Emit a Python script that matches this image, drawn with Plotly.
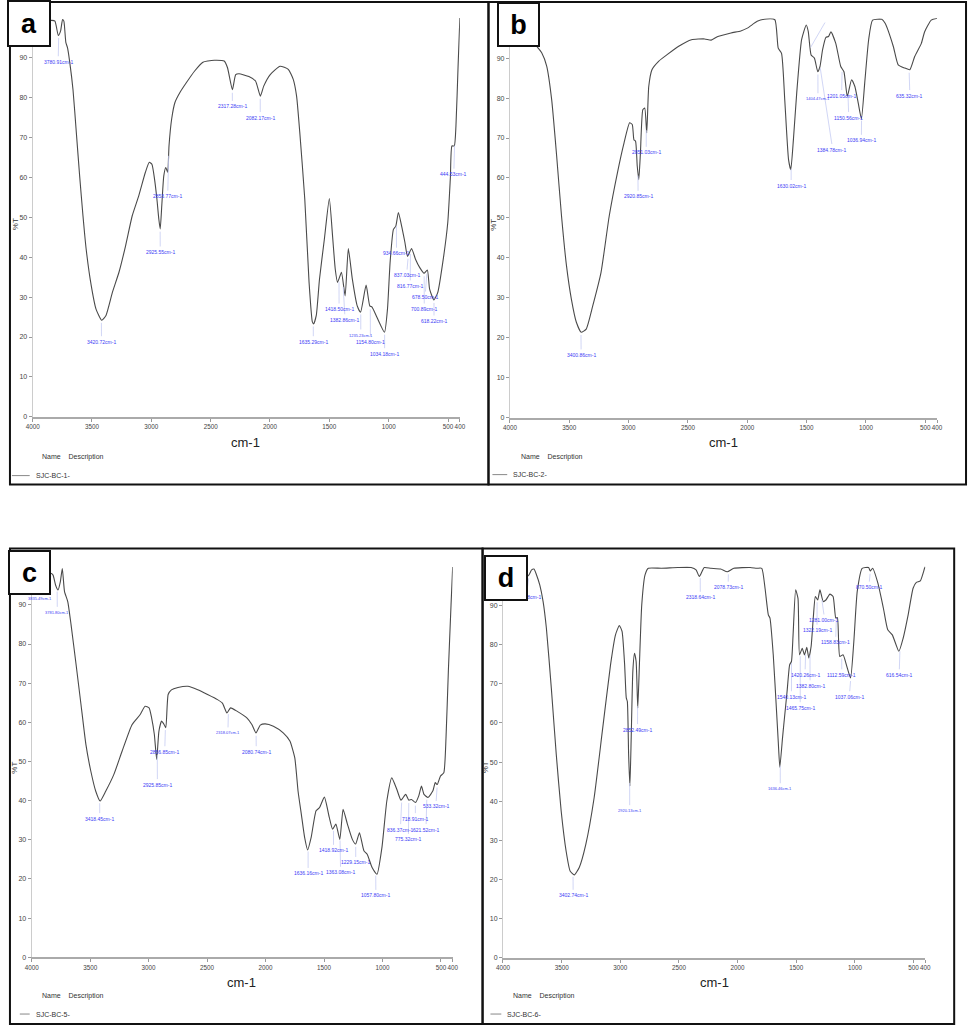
import numpy as np
import plotly.graph_objects as go

W, H = 974, 1029

# ---------------- DATA ----------------
x_ticks = [4000, 3500, 3000, 2500, 2000, 1500, 1000, 500, 400]
y_ticks = [0, 10, 20, 30, 40, 50, 60, 70, 80, 90]
panel_letters = ["a", "b", "c", "d"]
sample_names = ["SJC-BC-1-", "SJC-BC-2-", "SJC-BC-5-", "SJC-BC-6-"]

wn_a = [4000, 3900, 3839, 3812, 3784, 3765, 3748, 3737, 3720, 3706,
        3687, 3660, 3632, 3604, 3576, 3549, 3507, 3466, 3418, 3382,
        3327, 3272, 3216, 3161, 3106, 3050, 3017, 2995, 2973, 2953,
        2937, 2925, 2912, 2895, 2878, 2862, 2851, 2829, 2801, 2759,
        2704, 2635, 2565, 2524, 2469, 2386, 2358, 2317, 2289, 2261,
        2178, 2122, 2081, 2053, 1998, 1915, 1846, 1804, 1776, 1749,
        1707, 1671, 1643, 1632, 1610, 1583, 1542, 1500, 1472, 1450,
        1431, 1398, 1367, 1340, 1306, 1265, 1237, 1190, 1159, 1140,
        1098, 1035, 1010, 988, 960, 940, 918, 885, 863, 841,
        807, 774, 738, 702, 674, 655, 619, 586, 544, 502,
        480, 467, 447, 433, 415, 400]
t_a = [99.0, 99.2, 99.4, 99.2, 95.6, 96.7, 99.6, 99.2, 93.8, 92.5,
       88.8, 82.0, 71.3, 60.4, 50.4, 42.0, 33.0, 27.0, 24.2, 25.4,
       31.3, 36.3, 43.0, 50.4, 55.4, 61.3, 63.8, 63.3, 59.6, 54.6,
       49.6, 47.1, 52.9, 60.4, 62.5, 61.3, 67.9, 74.6, 78.8, 81.3,
       83.8, 86.7, 88.9, 89.2, 89.4, 89.2, 87.5, 82.0, 85.8, 86.0,
       85.3, 84.2, 80.4, 82.9, 85.8, 87.9, 87.1, 84.6, 80.4, 71.3,
       54.6, 33.8, 23.8, 23.3, 25.4, 34.5, 44.5, 54.7, 45.0, 37.0,
       33.7, 36.2, 30.3, 42.2, 34.5, 27.8, 26.2, 33.0, 27.8, 27.5,
       24.9, 21.2, 27.0, 38.7, 47.0, 47.8, 51.2, 47.0, 43.7, 40.2,
       42.2, 39.5, 37.4, 36.0, 36.8, 32.0, 29.3, 31.2, 38.7, 48.7,
       60.0, 67.9, 67.9, 72.9, 88.0, 100.0]

wn_b = [4000, 3850, 3773, 3731, 3690, 3648, 3606, 3565, 3523, 3482,
        3440, 3399, 3357, 3302, 3232, 3163, 3094, 3038, 2991, 2969,
        2955, 2941, 2927, 2914, 2900, 2880, 2864, 2847, 2830, 2803,
        2747, 2678, 2581, 2470, 2359, 2304, 2248, 2137, 2054, 1999,
        1916, 1836, 1767, 1739, 1711, 1684, 1652, 1633, 1611, 1583,
        1542, 1503, 1486, 1462, 1434, 1406, 1387, 1365, 1337, 1315,
        1295, 1254, 1212, 1185, 1157, 1121, 1093, 1065, 1038, 1010,
        977, 944, 866, 838, 769, 728, 672, 630, 589, 533,
        505, 450, 408, 400]
t_b = [96.5, 95.8, 92.9, 91.3, 88.0, 79.6, 65.5, 50.5, 38.0, 29.7,
       23.9, 21.4, 22.2, 28.0, 36.4, 50.5, 61.3, 68.8, 73.8, 73.4,
       69.6, 69.2, 63.0, 59.6, 66.3, 77.1, 77.5, 71.3, 82.9, 87.1,
       89.2, 90.8, 92.9, 94.6, 94.8, 94.5, 95.4, 96.3, 96.8, 97.5,
       99.2, 99.8, 99.6, 92.5, 91.2, 79.6, 64.6, 62.1, 69.6, 81.3,
       94.6, 98.3, 96.7, 90.8, 90.0, 86.6, 87.9, 92.1, 95.2, 95.4,
       96.6, 93.7, 87.9, 86.6, 80.4, 84.6, 82.9, 78.8, 74.8, 83.8,
       94.6, 99.5, 99.7, 98.7, 92.9, 88.3, 87.5, 87.1, 90.4, 93.7,
       96.6, 99.5, 99.9, 99.9]

wn_c = [4000, 3900, 3831, 3817, 3795, 3775, 3755, 3738, 3719, 3691,
        3663, 3620, 3578, 3536, 3494, 3452, 3415, 3367, 3297, 3227,
        3142, 3072, 3030, 2996, 2974, 2951, 2931, 2912, 2889, 2867,
        2853, 2833, 2805, 2749, 2664, 2580, 2496, 2411, 2369, 2330,
        2299, 2242, 2158, 2116, 2082, 2045, 2003, 1933, 1849, 1792,
        1750, 1722, 1694, 1666, 1640, 1610, 1568, 1539, 1497, 1455,
        1427, 1399, 1365, 1337, 1300, 1258, 1230, 1197, 1159, 1131,
        1089, 1047, 1005, 963, 921, 878, 842, 802, 774, 752,
        718, 690, 667, 645, 611, 569, 549, 532, 504, 476,
        457, 437, 414, 400]
t_c = [98.0, 98.2, 98.0, 97.6, 95.0, 93.8, 95.9, 99.3, 93.4, 90.8,
       84.9, 74.7, 64.5, 54.3, 47.5, 42.4, 39.9, 42.4, 46.7, 52.6,
       59.4, 62.0, 64.1, 63.7, 61.1, 56.9, 50.5, 57.7, 60.3, 59.4,
       58.6, 67.1, 68.3, 68.9, 69.2, 68.3, 67.1, 65.8, 64.9, 62.4,
       63.7, 62.8, 61.1, 59.4, 57.3, 59.3, 59.6, 59.0, 57.3, 55.2,
       50.9, 42.4, 36.5, 30.6, 27.4, 30.6, 37.4, 38.2, 40.9, 35.7,
       32.7, 34.0, 30.1, 37.8, 34.0, 30.1, 28.9, 31.8, 27.2, 26.3,
       22.9, 21.2, 28.0, 39.9, 45.8, 42.9, 40.1, 41.6, 40.1, 40.3,
       39.5, 41.2, 43.7, 41.6, 40.8, 42.5, 44.6, 44.1, 46.3, 47.1,
       56.0, 73.0, 90.0, 99.7]

wn_d = [4000, 3850, 3784, 3756, 3736, 3714, 3686, 3658, 3630, 3588,
        3546, 3504, 3462, 3428, 3392, 3350, 3294, 3223, 3153, 3083,
        3041, 3008, 2985, 2963, 2949, 2940, 2929, 2918, 2907, 2893,
        2879, 2865, 2851, 2837, 2817, 2789, 2761, 2649, 2509, 2396,
        2354, 2326, 2284, 2228, 2144, 2088, 2032, 1892, 1836, 1794,
        1766, 1738, 1724, 1696, 1668, 1653, 1640, 1617, 1606, 1578,
        1556, 1541, 1527, 1505, 1485, 1472, 1449, 1430, 1410, 1393,
        1373, 1354, 1337, 1317, 1298, 1270, 1247, 1213, 1186, 1163,
        1149, 1129, 1101, 1073, 1037, 1009, 980, 938, 883, 869,
        849, 804, 757, 720, 681, 625, 588, 546, 504, 476,
        442, 406, 400]
t_d = [98.0, 98.0, 97.6, 99.1, 99.3, 97.8, 95.2, 91.0, 84.2, 68.9,
       52.0, 37.5, 27.3, 22.2, 21.2, 23.1, 29.0, 40.9, 57.9, 74.9,
       82.5, 84.9, 83.4, 74.9, 66.4, 65.5, 52.0, 43.9, 56.2, 73.2,
       77.8, 75.7, 63.8, 74.9, 90.2, 97.8, 99.5, 99.5, 99.7, 99.7,
       99.1, 97.4, 99.7, 99.5, 99.3, 98.6, 99.5, 99.7, 99.5, 99.5,
       94.4, 87.6, 86.8, 77.4, 63.0, 55.0, 48.7, 56.2, 59.6, 68.1,
       74.9, 75.7, 82.5, 94.0, 91.8, 77.4, 79.1, 77.4, 79.3, 76.6,
       79.6, 87.2, 92.3, 91.4, 94.0, 91.0, 91.4, 92.9, 92.3, 86.8,
       86.9, 77.0, 77.4, 74.9, 71.5, 80.8, 93.6, 99.5, 99.7, 98.8,
       99.5, 95.7, 89.3, 83.8, 82.5, 78.3, 81.7, 87.6, 94.4, 95.9,
       96.3, 99.5, 99.9]

# peak labels: wavenumber, label x (cm-1), label y (%T)
pk_a = [3780.91, 3420.72, 2925.55, 2853.77, 2317.28, 2082.17, 1635.29, 1418.50, 1382.86, 1235.23,
        1154.80, 1034.18, 934.66, 837.03, 816.77, 678.50, 700.89, 618.22, 444.53]
lx_a = [3784, 3420, 2925, 2861, 2317, 2082, 1635, 1418, 1370, 1235,
        1154, 1034, 934, 845, 818, 690, 700, 618, 450]
ly_a = [89.0, 18.8, 41.3, 55.3, 77.8, 75.0, 18.8, 27.0, 24.3, 20.5,
        18.8, 15.8, 41.0, 35.5, 32.8, 30.0, 27.0, 24.0, 60.8]
tiny_a = [1235.23]

pk_b = [3400.86, 2920.85, 2851.03, 1630.02, 1466.35, 1404.47, 1384.78, 1201.05, 1150.56, 1036.94, 635.32]
lx_b = [3400, 2920, 2851, 1630, 1345, 1404, 1287, 1204, 1146, 1038, 631]
ly_b = [15.7, 55.4, 66.4, 58.1, 100.3, 79.8, 67.1, 80.6, 75.1, 69.4, 80.6]
tiny_b = [1404.47]

pk_c = [3835.49, 3781.80, 3418.45, 2925.85, 2856.85, 2318.07, 2080.74, 1636.16, 1418.92, 1363.08,
        1229.15, 1057.80, 836.37, 775.32, 718.91, 621.52, 533.32]
lx_c = [3932, 3781, 3418, 2925, 2861, 2321, 2080, 1636, 1419, 1359,
        1229, 1057, 845, 778, 719, 627, 541]
ly_c = [91.7, 88.1, 35.4, 44.1, 52.5, 57.3, 52.5, 21.4, 27.3, 21.7,
        24.2, 15.8, 32.6, 30.1, 35.4, 32.6, 38.5]
tiny_c = [3835.49, 3781.80, 2318.07]

pk_d = [3780.98, 3402.74, 2920.13, 2852.49, 2318.64, 2078.73, 1636.46, 1540.13, 1465.75, 1420.26,
        1382.80, 1322.19, 1281.00, 1158.83, 1112.59, 1037.06, 870.50, 616.54]
lx_d = [3796, 3402, 2920, 2853, 2318, 2080, 1636, 1541, 1466, 1424,
        1382, 1323, 1264, 1163, 1112, 1044, 877, 621]
ly_d = [92.1, 16.0, 37.6, 58.3, 92.1, 94.7, 43.2, 66.7, 63.9, 72.3,
        69.5, 83.7, 86.3, 80.6, 72.3, 66.7, 94.7, 72.3]
tiny_d = [2920.13, 1636.46]

# ---------------- LAYOUT GEOMETRY (pixels) ----------------
geo = [
    dict(x0=26.0, x1=459.0, yb=418.0, yt=18.0, box=(0, 0, 44, 47), ylab=(8, 225), xlab=(242, 444),
         name=(33, 458), leg=(5, 23, 477)),
    dict(x0=509.7, x1=942.7, yb=419.0, yt=18.2, box=(497, 2, 540, 47), ylab=(493, 225), xlab=(726, 444),
         name=(519, 458), leg=(492, 507, 476)),
    dict(x0=25.0, x1=451.7, yb=960.0, yt=567.4, box=(1, 552, 44, 597), ylab=(8, 770), xlab=(238, 985),
         name=(33, 999), leg=(13, 23, 1017)),
    dict(x0=502.7, x1=930.7, yb=960.7, yt=568.0, box=(484, 557, 528, 603), ylab=(485, 770), xlab=(717, 985),
         name=(511, 999), leg=(490, 501, 1017)),
]

series = [(wn_a, t_a), (wn_b, t_b), (wn_c, t_c), (wn_d, t_d)]
peaks = [(pk_a, lx_a, ly_a, tiny_a), (pk_b, lx_b, ly_b, tiny_b),
         (pk_c, lx_c, ly_c, tiny_c), (pk_d, lx_d, ly_d, tiny_d)]

NARROW = "Liberation Sans Narrow, Arial Narrow, Liberation Sans, Arial, sans-serif"
BOLD = "Liberation Sans, Arial, sans-serif"


def px(x):
    return x / W


def py(y):
    return 1 - y / H


fig = go.Figure()
shapes = []
annotations = []

for i, ((wn, t), g, (pk, lx, ly, tiny)) in enumerate(zip(series, geo, peaks)):
    n = "" if i == 0 else str(i + 1)
    xa, ya = "x" + n, "y" + n
    fig.add_trace(go.Scatter(
        x=wn, y=t, mode="lines", xaxis=xa, yaxis=ya,
        line=dict(color="#4a4a4a", width=1.1, shape="spline", smoothing=0.5),
        hoverinfo="skip", showlegend=False))

    fig.layout["xaxis" + n] = dict(
        domain=[px(g["x0"]), px(g["x1"])], range=[4000, 400], anchor=ya,
        tickvals=x_ticks, ticktext=[str(v) for v in x_ticks], ticks="outside", ticklen=3,
        tickangle=0, tickcolor="#999", showline=True, linecolor="#aaa", linewidth=1.5,
        showgrid=False, zeroline=False,
        tickfont=dict(family=NARROW, size=6.3, color="#444"))
    fig.layout["yaxis" + n] = dict(
        domain=[py(g["yb"]), py(g["yt"])], range=[0, 100], anchor=xa,
        tickvals=y_ticks, ticks="outside", ticklen=3, tickcolor="#999",
        showline=True, linecolor="#ccc", linewidth=1, showgrid=False, zeroline=False,
        tickfont=dict(family=NARROW, size=7, color="#444"))

    # peak labels with connector lines
    wn_inc = np.array(wn[::-1], dtype=float)
    t_inc = np.array(t[::-1], dtype=float)
    for p, x_l, y_l in zip(pk, lx, ly):
        tc = float(np.interp(p, wn_inc, t_inc))
        if y_l < tc:
            ys, ye = tc - 0.8, y_l + 1.4
        else:
            ys, ye = tc + 0.8, y_l - 1.4
        shapes.append(dict(type="line", xref=xa, yref=ya, x0=p, x1=x_l, y0=ys, y1=ye,
                           line=dict(color="#c5ccf2", width=0.8)))
        small = p in tiny
        annotations.append(dict(
            x=x_l, y=y_l, xref=xa, yref=ya, text=f"{p:.2f}cm-1", showarrow=False,
            xanchor="center", yanchor="middle",
            font=dict(family=NARROW, size=4 if small else 5, color="#3c3cf5")))

    # axis titles
    annotations.append(dict(x=px(g["ylab"][0]), y=py(g["ylab"][1]), xref="paper", yref="paper",
                            text="%T", textangle=-90, showarrow=False,
                            xanchor="center", yanchor="middle",
                            font=dict(family=NARROW, size=8, color="#333")))
    annotations.append(dict(x=px(g["xlab"][0]), y=py(g["xlab"][1]), xref="paper", yref="paper",
                            text="cm-1", showarrow=False, xanchor="center", yanchor="middle",
                            font=dict(family=NARROW, size=13, color="#222")))
    # name / description legend
    annotations.append(dict(x=px(g["name"][0]), y=py(g["name"][1]), xref="paper", yref="paper",
                            text="Name&nbsp;&nbsp;&nbsp;&nbsp;Description", showarrow=False,
                            xanchor="left", yanchor="middle",
                            font=dict(family=NARROW, size=7, color="#333")))
    lx0, lx1, lyy = g["leg"]
    shapes.append(dict(type="line", xref="paper", yref="paper", x0=px(lx0), x1=px(lx1),
                       y0=py(lyy), y1=py(lyy), line=dict(color="#888", width=1)))
    annotations.append(dict(x=px(lx1 + 4), y=py(lyy), xref="paper", yref="paper",
                            text=sample_names[i], showarrow=False, xanchor="left", yanchor="middle",
                            font=dict(family=NARROW, size=7, color="#333")))

# panel frames
frames = [(3, 2, 488, 486), (488, 2, 972, 486), (3, 550, 482, 1027), (482, 550, 960, 1027)]
for (x0, y0, x1, y1) in frames:
    shapes.append(dict(type="rect", xref="paper", yref="paper", x0=px(x0), x1=px(x1),
                       y0=py(y0), y1=py(y1), line=dict(color="#111", width=2)))

# panel letter boxes (annotations drawn last so they cover the curve)
for g, letter in zip(geo, panel_letters):
    bx0, by0, bx1, by1 = g["box"]
    annotations.append(dict(
        x=px((bx0 + bx1) / 2), y=py((by0 + by1) / 2), xref="paper", yref="paper",
        text=f"<b>{letter}</b>", showarrow=False, width=bx1 - bx0 - 4, height=by1 - by0 - 4,
        bgcolor="white", bordercolor="#111", borderwidth=2, borderpad=0,
        xanchor="center", yanchor="middle",
        font=dict(family=BOLD, size=27, color="black")))

fig.update_layout(
    width=W, height=H, margin=dict(l=0, r=0, t=0, b=0, pad=0),
    paper_bgcolor="white", plot_bgcolor="white",
    shapes=shapes, annotations=annotations, showlegend=False)

fig.write_html("out.html", config={"displayModeBar": False},
               post_script="document.body.style.margin='0';document.body.style.overflow='hidden';")
